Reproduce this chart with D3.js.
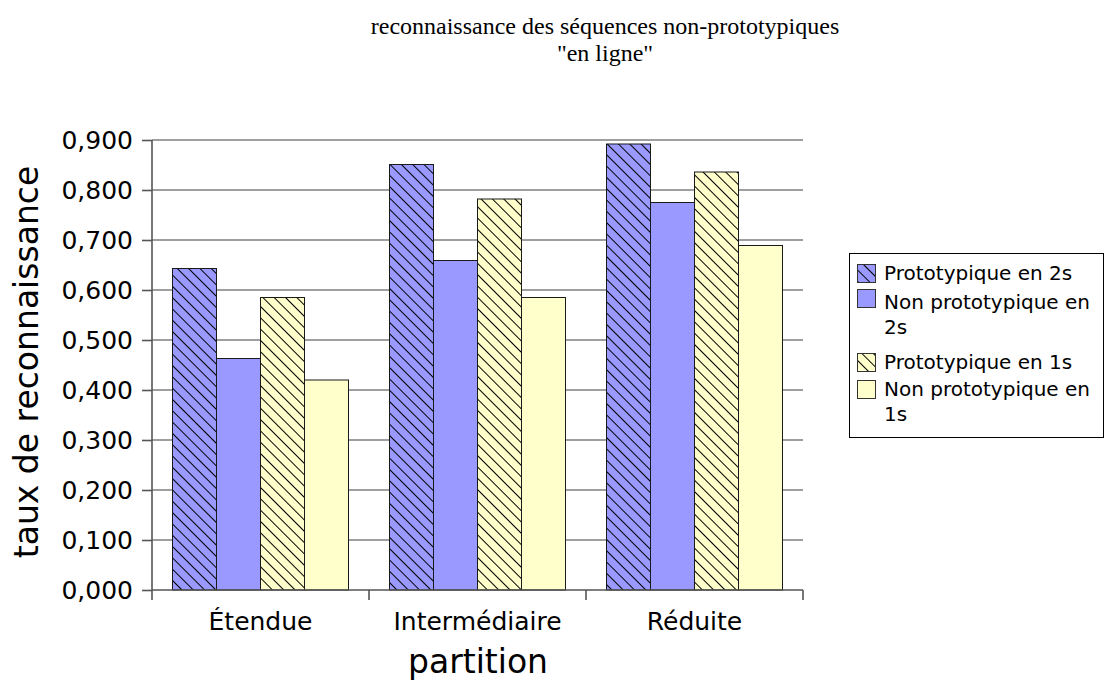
<!DOCTYPE html>
<html>
<head>
<meta charset="utf-8">
<script src="https://cdn.jsdelivr.net/npm/d3@7"></script>
<style>
  html, body { margin: 0; padding: 0; background: #fff; }
  svg { display: block; }
</style>
</head>
<body>
<svg id="chart" width="1110" height="681"></svg>
<script>
// Partition categories and recognition rates per condition
const categories = ["Étendue", "Intermédiaire", "Réduite"];
const seriesNames = ["Prototypique en 2s", "Non prototypique en 2s", "Prototypique en 1s", "Non prototypique en 1s"];
const legendLines = [["Prototypique en 2s"], ["Non prototypique en", "2s"], ["Prototypique en 1s"], ["Non prototypique en", "1s"]];
const proto2s    = [0.643, 0.851, 0.892];
const nonProto2s = [0.463, 0.659, 0.775];
const proto1s    = [0.585, 0.782, 0.836];
const nonProto1s = [0.420, 0.585, 0.689];
const yTicks = [0, 0.1, 0.2, 0.3, 0.4, 0.5, 0.6, 0.7, 0.8, 0.9];

const seriesValues = [proto2s, nonProto2s, proto1s, nonProto1s];
const fills = ["#9999ff", "#9999ff", "#ffffcc", "#ffffcc"];
const hatched = [true, false, true, false];

const svg = d3.select("#chart");
const plot = { left: 152, right: 803, top: 140, bottom: 590 };

// hatch pattern definitions
const defs = svg.append("defs");
["#9999ff", "#ffffcc"].forEach((c, i) => {
  const p = defs.append("pattern")
    .attr("id", "hatch" + i)
    .attr("patternUnits", "userSpaceOnUse")
    .attr("width", 8).attr("height", 8)
    .attr("patternTransform", "rotate(45)");
  p.append("rect").attr("width", 8).attr("height", 8).attr("fill", c);
  p.append("line").attr("x1", 0).attr("x2", 8).attr("y1", 0.5).attr("y2", 0.5)
    .attr("stroke", "#000").attr("stroke-width", 1);
});
const fillFor = i => hatched[i] ? `url(#hatch${i < 2 ? 0 : 1})` : fills[i];

const x0 = d3.scaleBand().domain(categories).range([plot.left, plot.right]).padding(0);
const groupPad = 20.5;
const x1 = d3.scaleBand().domain(d3.range(seriesNames.length))
  .range([groupPad, x0.bandwidth() - groupPad]).padding(0);
const y = d3.scaleLinear().domain([0, 0.9]).range([plot.bottom, plot.top]);

// gridlines
svg.append("g").selectAll("line").data(yTicks.filter(t => t > 0)).join("line")
  .attr("x1", plot.left).attr("x2", plot.right)
  .attr("y1", d => y(d)).attr("y2", d => y(d))
  .attr("stroke", "#7f7f7f").attr("stroke-width", 1.6);

// bars
const rows = [];
categories.forEach((c, ci) => seriesValues.forEach((s, si) => rows.push({ c, si, v: s[ci] })));
svg.append("g").selectAll("rect").data(rows).join("rect")
  .attr("x", d => x0(d.c) + x1(d.si))
  .attr("y", d => y(d.v))
  .attr("width", x1.bandwidth())
  .attr("height", d => y(0) - y(d.v))
  .attr("fill", d => fillFor(d.si))
  .attr("stroke", "#1a1a1a").attr("stroke-width", 1);

// y axis
const yAxis = d3.axisLeft(y).tickValues(yTicks).tickSize(10).tickPadding(9)
  .tickFormat(d => d3.format(".3f")(d).replace(".", ","));
const gy = svg.append("g").attr("transform", `translate(${plot.left},0)`).call(yAxis);
gy.select(".domain").attr("d", `M0,${plot.top}V${plot.bottom + 10}`)
  .attr("stroke", "#555").attr("stroke-width", 1.6);
gy.selectAll(".tick line").attr("stroke", "#555").attr("stroke-width", 1.6);
gy.selectAll(".tick text").attr("font-family", "DejaVu Sans").attr("font-size", 25).attr("fill", "#000");

// x axis
const xAxis = d3.axisBottom(x0).tickSize(0).tickPadding(22);
const gx = svg.append("g").attr("transform", `translate(0,${plot.bottom})`).call(xAxis);
gx.select(".domain").attr("d", `M${plot.left},0H${plot.right}`)
  .attr("stroke", "#555").attr("stroke-width", 1.6);
gx.selectAll(".tick text").attr("font-family", "DejaVu Sans").attr("font-size", 25).attr("fill", "#000");
// category separators
svg.append("g").selectAll("line").data(categories.slice(1).concat([null])).join("line")
  .attr("x1", d => d === null ? plot.right : x0(d)).attr("x2", d => d === null ? plot.right : x0(d))
  .attr("y1", plot.bottom).attr("y2", plot.bottom + 10)
  .attr("stroke", "#555").attr("stroke-width", 1.6);

// axis titles
svg.append("text").attr("x", 478).attr("y", 673)
  .attr("text-anchor", "middle").attr("font-family", "DejaVu Sans").attr("font-size", 33)
  .text("partition");
svg.append("text").attr("transform", "translate(38,362) rotate(-90)")
  .attr("text-anchor", "middle").attr("font-family", "DejaVu Sans").attr("font-size", 33)
  .text("taux de reconnaissance");

// title
const title = svg.append("text").attr("text-anchor", "middle")
  .attr("font-family", "Liberation Serif").attr("font-size", 24).attr("fill", "#000");
title.append("tspan").attr("x", 605).attr("y", 34).text("reconnaissance des séquences non-prototypiques");
title.append("tspan").attr("x", 605).attr("y", 61).text("\"en ligne\"");

// legend
const lg = svg.append("g");
lg.append("rect").attr("x", 849.5).attr("y", 253.5).attr("width", 254).attr("height", 184)
  .attr("fill", "#fff").attr("stroke", "#000").attr("stroke-width", 1);
const swatchTop = [264, 289, 353, 380];
const textBase = [280, 309, 369, 396];
seriesNames.forEach((name, i) => {
  lg.append("rect").attr("x", 857.5).attr("y", swatchTop[i] + 0.5).attr("width", 18).attr("height", 18)
    .attr("fill", fillFor(i)).attr("stroke", "#333").attr("stroke-width", 1);
  const t = lg.append("text").attr("font-family", "DejaVu Sans").attr("font-size", 20).attr("fill", "#000");
  legendLines[i].forEach((ln, k) => {
    t.append("tspan").attr("x", 884).attr("y", textBase[i] + k * 25).text(ln);
  });
});
</script>
</body>
</html>
